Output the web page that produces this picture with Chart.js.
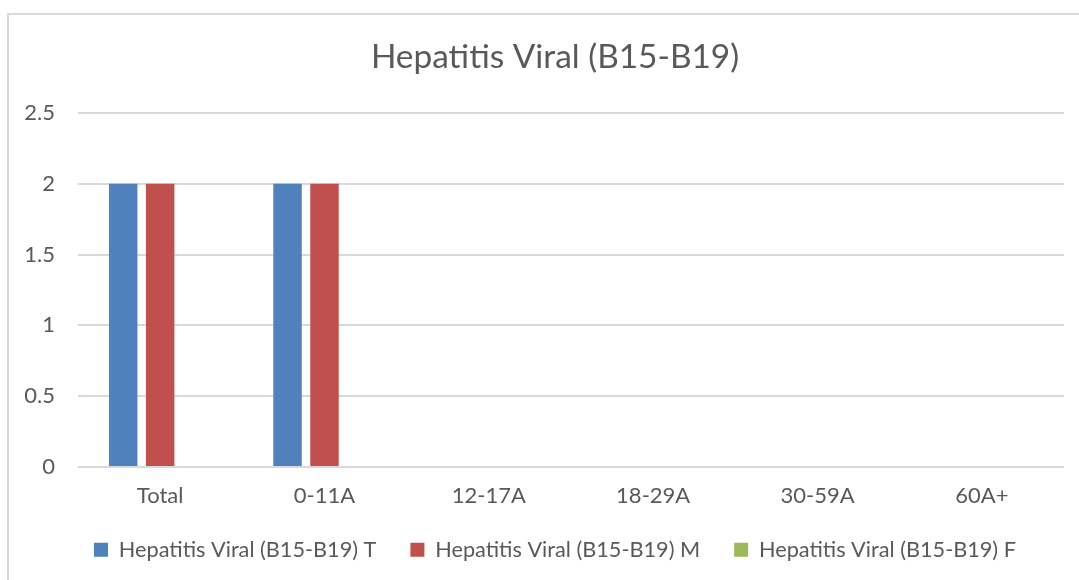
<!DOCTYPE html>
<html>
<head>
<meta charset="utf-8">
<script src="https://cdn.jsdelivr.net/npm/chart.js@4"></script>
<style>
    html, body { margin: 0; padding: 0; background: #fff; overflow: hidden; }
    #wrap { position: relative; width: 1079px; height: 580px; overflow: hidden; }
    #frame { position: absolute; left: 7px; top: 13px; right: -5px; bottom: -5px; border-top: 2px solid #d9d9d9; border-left: 2px solid #d9d9d9; }
    #holder { position: absolute; left: 0; top: 0; width: 1110px; height: 580px; }
</style>
</head>
<body>
<div id="wrap">
    <div id="frame"></div>
    <div id="holder"><canvas id="myChart"></canvas></div>
</div>
<script>
let categories = ["Total", "0-11A", "12-17A", "18-29A", "30-59A", "60A+"];
let seriesNames = ["Hepatitis Viral (B15-B19) T", "Hepatitis Viral (B15-B19) M", "Hepatitis Viral (B15-B19) F"];
let valuesT = [2, 2, 0, 0, 0, 0];
let valuesM = [2, 2, 0, 0, 0, 0];
let valuesF = [0, 0, 0, 0, 0, 0];
let yTicks = [0, 0.5, 1, 1.5, 2, 2.5];
let colors = ["#4f81bd", "#c0504d", "#9bbb59"];

let textColor = "#595959";
let fontFamily = "Lato, 'Open Sans', sans-serif";

let ctx = document.getElementById("myChart").getContext("2d");
let myChart = new Chart(ctx, {
    type: "bar",
    data: {
        labels: categories,
        datasets: [
            { label: seriesNames[0], data: valuesT, backgroundColor: colors[0] },
            { label: seriesNames[1], data: valuesM, backgroundColor: colors[1] },
            { label: seriesNames[2], data: valuesF, backgroundColor: colors[2] },
        ],
    },
    options: {
        responsive: true,
        maintainAspectRatio: false,
        animation: false,
        categoryPercentage: 0.675,
        barPercentage: 0.77,
        layout: { padding: { left: 0, right: 0, top: 0, bottom: 9.4 } },
        scales: {
            x: {
                grid: { display: false, drawTicks: false },
                border: { display: false },
                ticks: { color: textColor, font: { family: fontFamily, size: 22 }, padding: 16, maxRotation: 0 },
                afterFit: scale => { scale.height = 38; },
            },
            y: {
                min: 0,
                max: 2.5,
                afterBuildTicks: scale => { scale.ticks = yTicks.map(v => ({ value: v })); },
                grid: { color: "#d9d9d9", lineWidth: 2, drawTicks: false },
                border: { display: false },
                ticks: {
                    color: textColor,
                    font: { family: fontFamily, size: 22 },
                    padding: 23,
                    callback: value => String(value),
                },
                afterFit: scale => { scale.width = 78; },
            },
            // empty space on the right, the frame goes on past the picture
            spacer: {
                type: "linear",
                position: "right",
                grid: { display: false, drawTicks: false },
                border: { display: false },
                ticks: { display: false },
                afterFit: scale => { scale.width = 46; },
            },
        },
        plugins: {
            title: {
                display: true,
                text: "Hepatitis Viral (B15-B19)",
                color: textColor,
                font: { family: fontFamily, size: 33.4, weight: "normal" },
                padding: { top: 37, bottom: 36 },
            },
            legend: {
                display: true,
                position: "bottom",
                labels: {
                    color: textColor,
                    font: { family: fontFamily, size: 21.7 },
                    boxWidth: 14,
                    boxHeight: 14,
                    padding: 34,
                },
            },
            tooltip: { enabled: false },
        },
    },
});
</script>
</body>
</html>
